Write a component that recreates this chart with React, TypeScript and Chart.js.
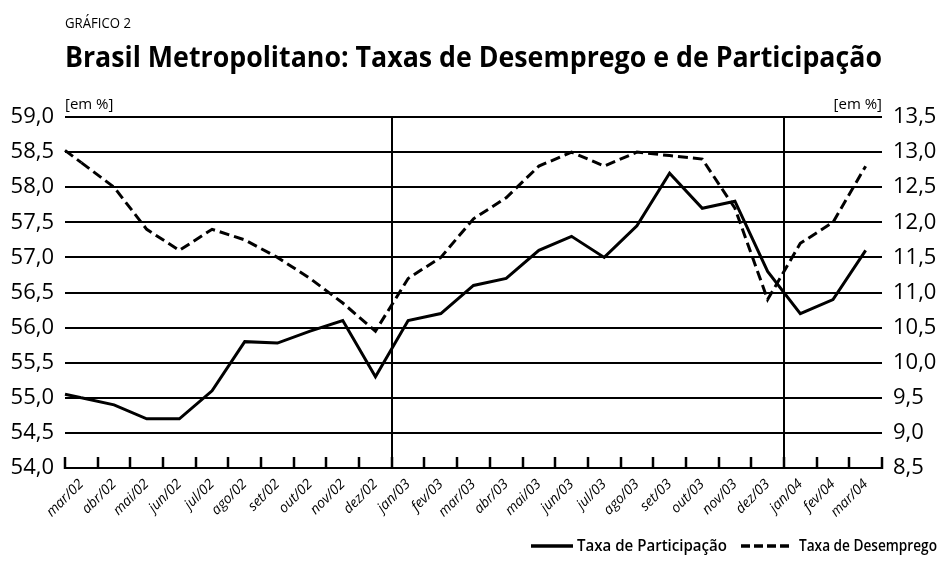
import React, { useEffect, useRef } from 'react';
import { Chart, registerables } from 'chart.js';

Chart.register(...registerables);

// ---- data ----
const categories = [
  'mar/02', 'abr/02', 'mai/02', 'jun/02', 'jul/02', 'ago/02', 'set/02', 'out/02', 'nov/02', 'dez/02',
  'jan/03', 'fev/03', 'mar/03', 'abr/03', 'mai/03', 'jun/03', 'jul/03', 'ago/03', 'set/03', 'out/03',
  'nov/03', 'dez/03', 'jan/04', 'fev/04', 'mar/04',
];
const participacao = [
  55.0, 54.9, 54.7, 54.7, 55.1, 55.8, 55.78, 55.95, 56.1, 55.3,
  56.1, 56.2, 56.6, 56.7, 57.1, 57.3, 57.0, 57.45, 58.2, 57.7,
  57.8, 56.8, 56.2, 56.4, 57.1,
];
const desemprego = [
  12.85, 12.5, 11.9, 11.6, 11.9, 11.75, 11.5, 11.2, 10.85, 10.45,
  11.2, 11.5, 12.05, 12.35, 12.8, 13.0, 12.8, 13.0, 12.95, 12.9,
  12.2, 10.9, 11.7, 12.0, 12.8,
];
const leftRange = [54.0, 59.0];
const rightRange = [8.5, 13.5];
const tickStep = 0.5;
const yearStartLabels = ['jan/03', 'jan/04'];
const seriesNames = ['Taxa de Participação', 'Taxa de Desemprego'];
const kicker = 'GRÁFICO 2';
const title = 'Brasil Metropolitano: Taxas de Desemprego e de Participação';
const unitLabel = '[em %]';

const FONT = '"Open Sans", "DejaVu Sans", sans-serif';
const DASH = [10, 5];

const fmt = (v: number) => Number(v).toFixed(1).replace('.', ',');

const decorPlugin = {
  id: 'decor',
  beforeDraw(chart: any) {
    const { ctx, width, height } = chart;
    ctx.save();
    ctx.fillStyle = '#fff';
    ctx.fillRect(0, 0, width, height);
    ctx.restore();
  },
  afterDatasetsDraw(chart: any) {
    const { ctx, chartArea } = chart;
    ctx.save();
    // extend the lines to the left edge of the plot, continuing the first segment
    chart.data.datasets.forEach((ds: any, i: number) => {
      const meta = chart.getDatasetMeta(i);
      const p0 = meta.data[0];
      const p1 = meta.data[1];
      if (!p0 || !p1) return;
      const slope = (p1.y - p0.y) / (p1.x - p0.x);
      const yL = p0.y - slope * (p0.x - chartArea.left);
      ctx.beginPath();
      ctx.strokeStyle = '#000';
      ctx.lineWidth = 3;
      ctx.setLineDash(ds.borderDash || []);
      ctx.moveTo(chartArea.left, yL);
      ctx.lineTo(p0.x, p0.y);
      ctx.stroke();
    });
    // inward tick marks on the x axis at category boundaries
    ctx.setLineDash([]);
    ctx.strokeStyle = '#000';
    ctx.lineWidth = 2.5;
    const n = categories.length;
    const step = (chartArea.right - chartArea.left) / n;
    for (let i = 0; i <= n; i++) {
      const x = Math.round(chartArea.left + i * step);
      ctx.beginPath();
      ctx.moveTo(x, chartArea.bottom + 1);
      ctx.lineTo(x, chartArea.bottom - 11);
      ctx.stroke();
    }
    ctx.restore();
  },
  afterDraw(chart: any) {
    const { ctx, chartArea } = chart;
    ctx.save();
    ctx.fillStyle = '#000';
    ctx.strokeStyle = '#000';
    ctx.setLineDash([]);

    // header
    ctx.textBaseline = 'alphabetic';
    ctx.textAlign = 'left';
    ctx.font = `500 14px ${FONT}`;
    ctx.fillText(kicker, chartArea.left, 28, 66);
    ctx.font = `bold 28px ${FONT}`;
    ctx.fillText(title, chartArea.left, 67, chartArea.right - chartArea.left);

    // unit labels
    ctx.font = `15px ${FONT}`;
    ctx.fillText(unitLabel, chartArea.left, 109, 50);
    ctx.textAlign = 'right';
    ctx.fillText(unitLabel, chartArea.right, 109, 50);

    // legend
    const ly = 546;
    ctx.font = `600 17px ${FONT}`;
    ctx.textAlign = 'left';
    ctx.textBaseline = 'middle';
    ctx.lineWidth = 3.5;
    // second entry (dashed)
    const t2x = 799;
    ctx.fillText(seriesNames[1], t2x, ly, 138);
    ctx.beginPath();
    ctx.setLineDash([9, 4]);
    ctx.moveTo(t2x - 58, ly);
    ctx.lineTo(t2x - 6, ly);
    ctx.stroke();
    // first entry (solid)
    const t1w = Math.min(ctx.measureText(seriesNames[0]).width, 150);
    const t1x = t2x - 58 - 14 - t1w;
    ctx.fillText(seriesNames[0], t1x, ly, 150);
    ctx.beginPath();
    ctx.setLineDash([]);
    ctx.moveTo(t1x - 46, ly);
    ctx.lineTo(t1x - 4, ly);
    ctx.stroke();

    ctx.restore();
  },
};

export default function App() {
  const ref = useRef<HTMLCanvasElement | null>(null);

  useEffect(() => {
    if (!ref.current) return;
    const dividerIdx = yearStartLabels.map((l) => categories.indexOf(l));
    const chart = new Chart(ref.current, {
      type: 'line',
      data: {
        labels: categories,
        datasets: [
          {
            label: seriesNames[0],
            data: participacao,
            yAxisID: 'y',
            borderColor: '#000',
            borderWidth: 3,
            pointRadius: 0,
            tension: 0,
            fill: false,
          },
          {
            label: seriesNames[1],
            data: desemprego,
            yAxisID: 'y1',
            borderColor: '#000',
            borderWidth: 3,
            borderDash: DASH,
            pointRadius: 0,
            tension: 0,
            fill: false,
          },
        ],
      },
      options: {
        responsive: false,
        animation: false,
        layout: { padding: { top: 117, left: 0, right: 0, bottom: 0 } },
        plugins: {
          legend: { display: false },
          title: { display: false },
          tooltip: { enabled: false },
        },
        scales: {
          x: {
            type: 'category',
            offset: true,
            grid: {
              offset: true,
              drawTicks: false,
              lineWidth: 2,
              color: (c: any) => (dividerIdx.includes(c.index) ? '#000' : 'rgba(0,0,0,0)'),
            },
            border: { display: true, color: '#000', width: 2 },
            ticks: {
              autoSkip: false,
              minRotation: 45,
              maxRotation: 45,
              padding: 8,
              color: '#000',
              font: { family: FONT, size: 14, style: 'italic', weight: '500' },
            },
            afterFit: (s: any) => {
              s.height = 98;
            },
          },
          y: {
            position: 'left',
            min: leftRange[0],
            max: leftRange[1],
            grid: { color: '#000', lineWidth: 2, drawTicks: false },
            border: { display: false },
            ticks: {
              stepSize: tickStep,
              padding: 11,
              color: '#000',
              font: { family: FONT, size: 22 },
              callback: (v: any) => fmt(v),
            },
            afterFit: (s: any) => {
              s.width = 65;
            },
          },
          y1: {
            position: 'right',
            min: rightRange[0],
            max: rightRange[1],
            grid: { drawOnChartArea: false, drawTicks: false },
            border: { display: false },
            ticks: {
              stepSize: tickStep,
              padding: 11,
              color: '#000',
              font: { family: FONT, size: 22 },
              callback: (v: any) => fmt(v),
            },
            afterFit: (s: any) => {
              s.width = 58;
            },
          },
        },
      },
      plugins: [decorPlugin],
    });
    return () => chart.destroy();
  }, []);

  return (
    <div style={{ position: 'absolute', left: 0, top: 0, width: 940, height: 566, background: '#fff' }}>
      <canvas ref={ref} width={940} height={566} />
    </div>
  );
}
